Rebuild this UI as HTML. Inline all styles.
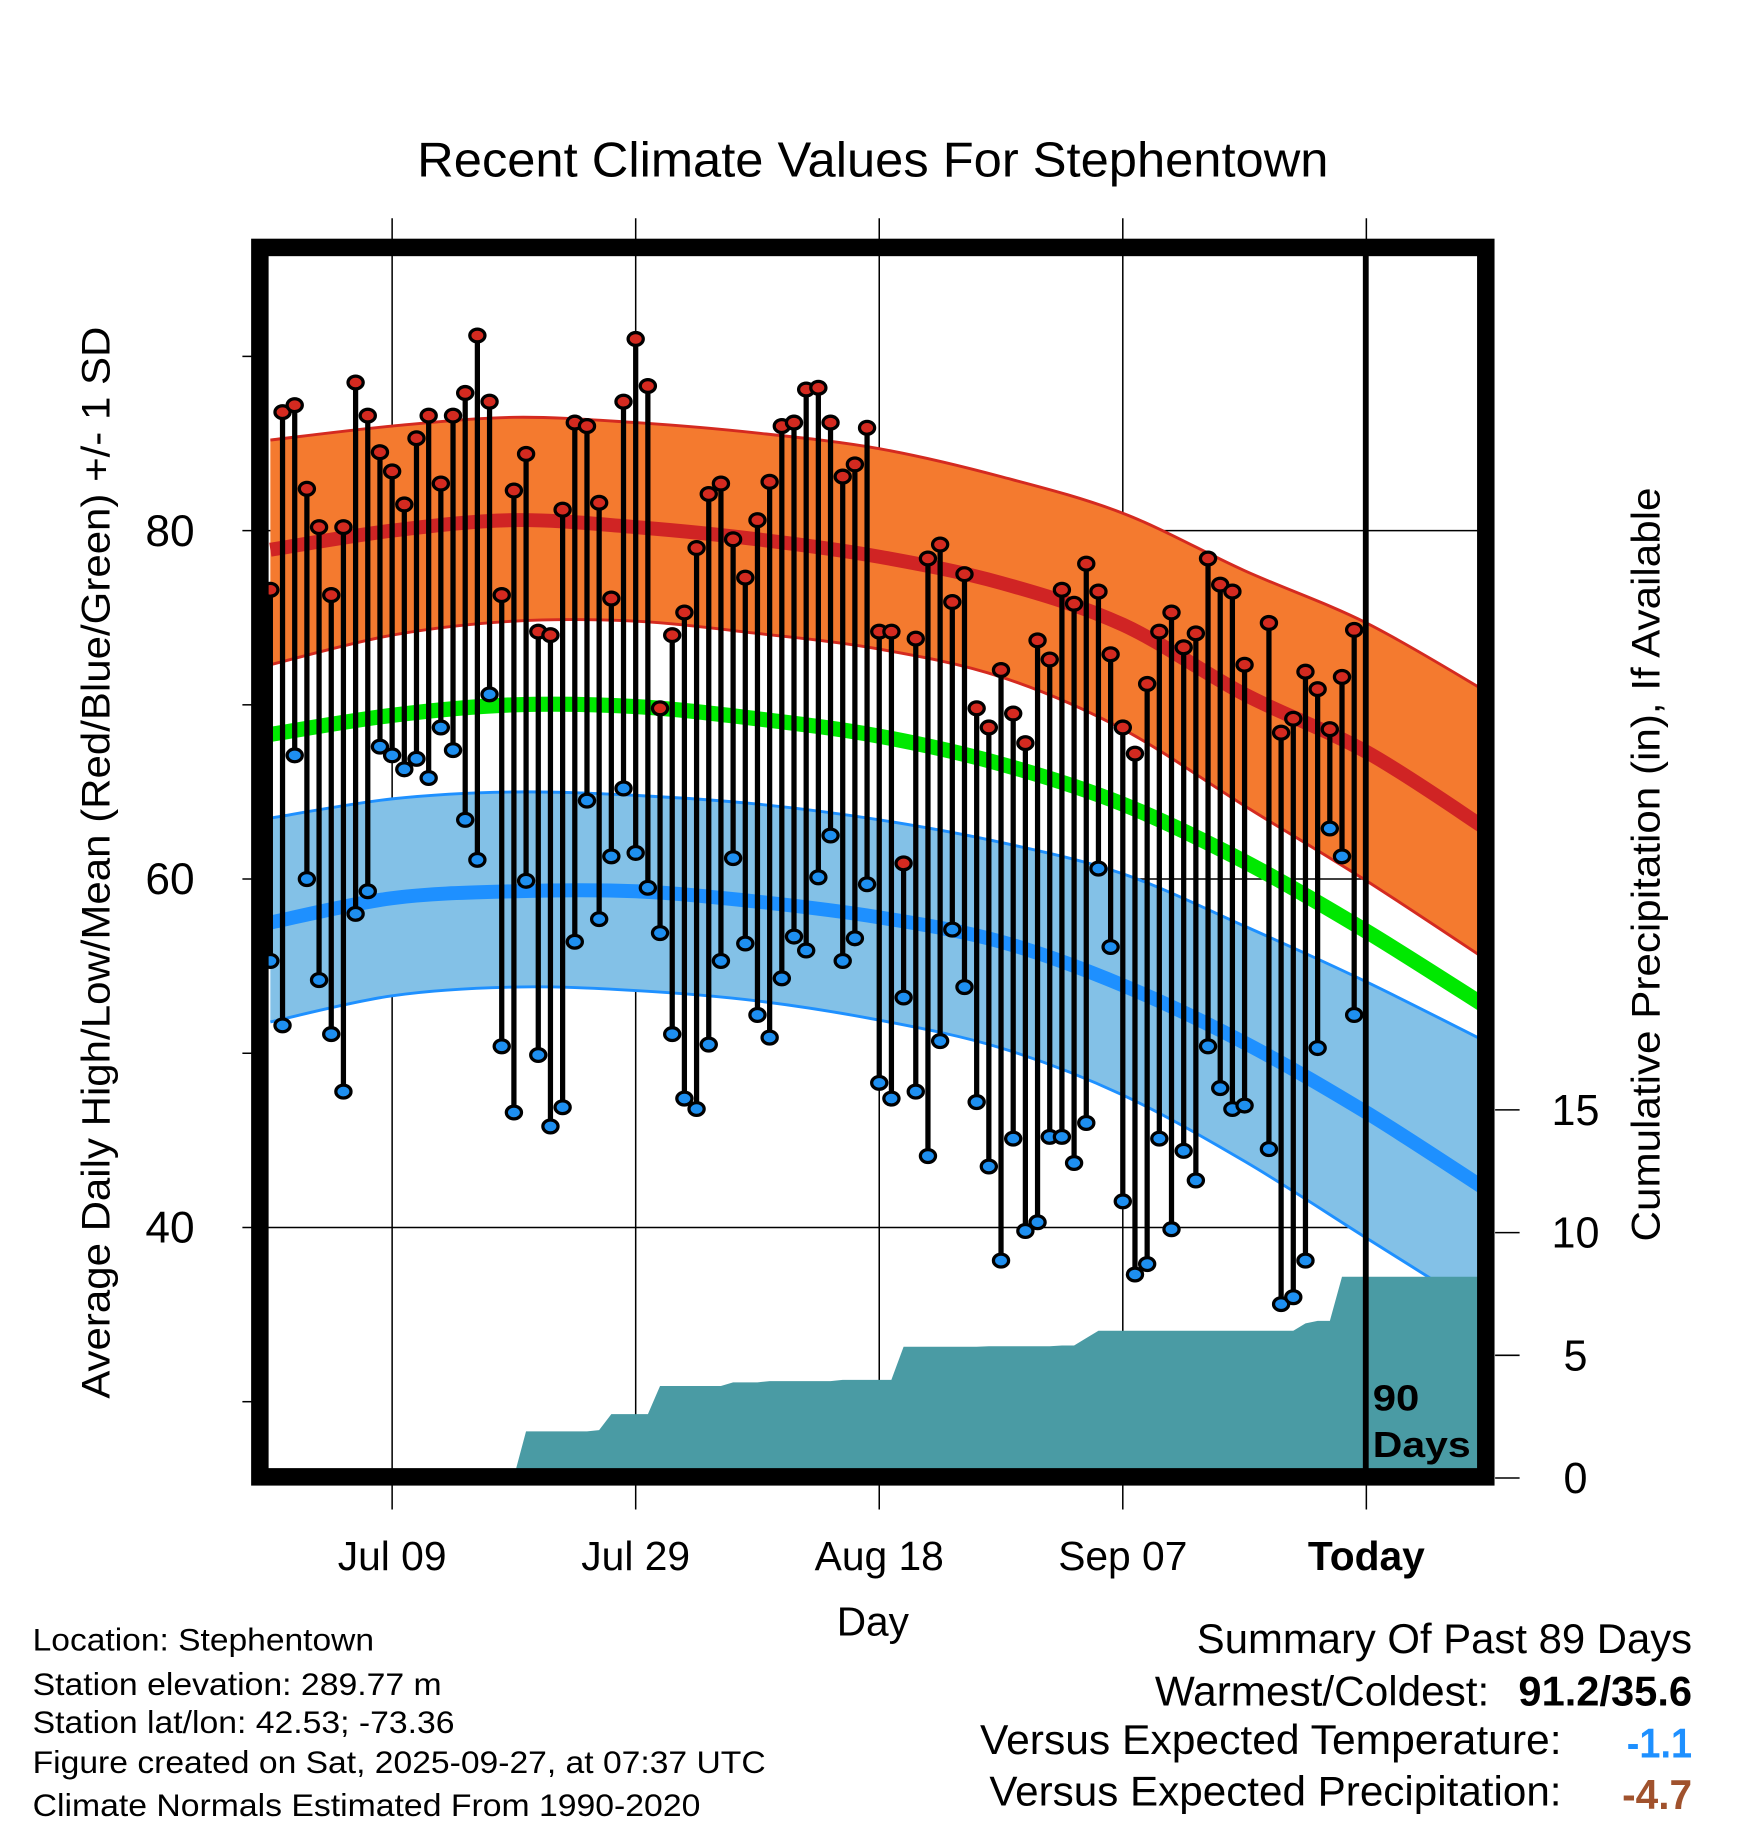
<!DOCTYPE html>
<html><head><meta charset="utf-8"><style>
html,body{margin:0;padding:0;background:#fff}
svg{display:block;font-family:"Liberation Sans",sans-serif}
</style></head><body>
<svg id="chart" width="1748" height="1828" viewBox="0 0 1500 1568" xmlns="http://www.w3.org/2000/svg">
<defs><clipPath id="pc"><rect x="230" y="219" width="1038" height="1041"/></clipPath></defs>
<text x="358" y="151" font-size="42" textLength="782" lengthAdjust="spacingAndGlyphs">Recent Climate Values For Stephentown</text>
<g id="grid"></g>
<g id="normals" clip-path="url(#pc)"></g>
<g id="precip" clip-path="url(#pc)"></g>
<g id="marks"></g>
<line x1="1172" y1="219" x2="1172" y2="1262" stroke="#000" stroke-width="5"/>
<text x="1178" y="1210" font-size="31" font-weight="bold" textLength="40" lengthAdjust="spacingAndGlyphs">90</text>
<text x="1178" y="1250" font-size="31" font-weight="bold" textLength="84" lengthAdjust="spacingAndGlyphs">Days</text>
<rect x="223" y="212" width="1052" height="1055" fill="none" stroke="#000" stroke-width="15"/>
<g id="axes"></g>
<text transform="translate(94,1200) rotate(-90)" font-size="34" textLength="920" lengthAdjust="spacingAndGlyphs">Average Daily High/Low/Mean (Red/Blue/Green) +/- 1 SD</text>
<text transform="translate(1424,1065) rotate(-90)" font-size="34" textLength="647" lengthAdjust="spacingAndGlyphs">Cumulative Precipitation (in), If Available</text>
<text x="718" y="1403" font-size="35" textLength="62" lengthAdjust="spacingAndGlyphs">Day</text>
<g font-size="27">
<text x="28" y="1416" textLength="293" lengthAdjust="spacingAndGlyphs">Location: Stephentown</text>
<text x="28" y="1454" textLength="351" lengthAdjust="spacingAndGlyphs">Station elevation: 289.77 m</text>
<text x="28" y="1487" textLength="362" lengthAdjust="spacingAndGlyphs">Station lat/lon: 42.53; -73.36</text>
<text x="28" y="1521" textLength="629" lengthAdjust="spacingAndGlyphs">Figure created on Sat, 2025-09-27, at 07:37 UTC</text>
<text x="28" y="1558" textLength="573" lengthAdjust="spacingAndGlyphs">Climate Normals Estimated From 1990-2020</text>
</g>
<g font-size="36">
<text x="1027" y="1418" textLength="425" lengthAdjust="spacingAndGlyphs">Summary Of Past 89 Days</text>
<text x="991" y="1463" textLength="287" lengthAdjust="spacingAndGlyphs">Warmest/Coldest:</text>
<text x="1303" y="1463" font-weight="bold" textLength="149" lengthAdjust="spacingAndGlyphs">91.2/35.6</text>
<text x="841" y="1505" textLength="499" lengthAdjust="spacingAndGlyphs">Versus Expected Temperature:</text>
<text x="1396" y="1508" font-weight="bold" fill="#1e90ff" textLength="56" lengthAdjust="spacingAndGlyphs">-1.1</text>
<text x="849" y="1549" textLength="491" lengthAdjust="spacingAndGlyphs">Versus Expected Precipitation:</text>
<text x="1392" y="1552" font-weight="bold" fill="#a0522d" textLength="60" lengthAdjust="spacingAndGlyphs">-4.7</text>
</g>
</svg>
<script>
const highs=[76.6,86.8,87.2,82.4,80.2,76.3,80.2,88.5,86.6,84.5,83.4,81.5,85.3,86.6,82.7,86.6,87.9,91.2,87.4,76.3,82.3,84.4,74.2,74.0,81.2,86.2,86.0,81.6,76.1,87.4,91.0,88.3,69.8,74.0,75.3,79.0,82.1,82.7,79.5,77.3,80.6,82.8,86.0,86.2,88.1,88.2,86.2,83.1,83.8,85.9,74.2,74.2,60.9,73.8,78.4,79.2,75.9,77.5,69.8,68.7,72.0,69.5,67.8,73.7,72.6,76.6,75.8,78.1,76.5,72.9,68.7,67.2,71.2,74.2,75.3,73.3,74.1,78.4,76.9,76.5,72.3,null,74.7,68.4,69.2,71.9,70.9,68.6,71.6,74.3];
const lows=[55.3,51.6,67.1,60.0,54.2,51.1,47.8,58.0,59.3,67.6,67.1,66.3,66.9,65.8,68.7,67.4,63.4,61.1,70.6,50.4,46.6,59.9,49.9,45.8,46.9,56.4,64.5,57.7,61.3,65.2,61.5,59.5,56.9,51.1,47.4,46.8,50.5,55.3,61.2,56.3,52.2,50.9,54.3,56.7,55.9,60.1,62.5,55.3,56.6,59.7,48.3,47.4,53.2,47.8,44.1,50.7,57.1,53.8,47.2,43.5,38.1,45.1,39.8,40.3,45.2,45.2,43.7,46.0,60.6,56.1,41.5,37.3,37.9,45.1,39.9,44.4,42.7,50.4,48.0,46.8,47.0,null,44.5,35.6,36.0,38.1,50.3,62.9,61.3,52.2];
const cumPrecip=[0,0,0,0,0,0,0,0,0,0,0,0,0,0,0,0.05,0.05,0.05,0.05,0.05,0.05,1.9,1.9,1.9,1.9,1.9,1.9,1.95,2.6,2.6,2.6,2.6,3.75,3.75,3.75,3.75,3.75,3.75,3.9,3.9,3.9,3.95,3.95,3.95,3.95,3.95,3.95,4.0,4.0,4.0,4.0,4.0,5.35,5.35,5.35,5.35,5.35,5.35,5.35,5.37,5.37,5.37,5.37,5.37,5.37,5.4,5.4,5.7,6.0,6.0,6.0,6.0,6.0,6.0,6.0,6.0,6.0,6.0,6.0,6.0,6.0,6.0,6.0,6.0,6.0,6.3,6.4,6.4,8.2,8.2];
const normDays=[0,10,20,30,40,50,60,70,80,90,100];
const normHigh=[78.9,80.0,80.6,80.2,79.5,78.5,77.0,74.6,70.6,67.3,62.8];
const normHighUp=[85.2,86.0,86.5,86.2,85.6,84.7,83.1,81.0,77.7,74.7,70.7];
const normHighLo=[72.3,74.0,74.8,74.8,74.1,73.2,71.6,68.6,64.2,59.9,55.3];
const normMean=[68.3,69.4,70.0,69.9,69.2,68.2,66.6,64.3,61.0,57.0,52.6];
const normLow=[57.5,58.9,59.3,59.3,58.7,57.8,56.4,53.9,50.6,46.6,42.1];
const normLowUp=[63.5,64.6,65.0,64.8,64.3,63.4,62.1,60.3,57.3,54.1,50.6];
const normLowLo=[51.8,53.3,53.8,53.6,53.0,51.9,50.3,47.6,43.8,39.4,35.0];
const tempTicks=[40,60,80];
const tempMinor=[30,50,70,90];
const precipTicks=[0,5,10,15];
const dateLabels=["Jul 09","Jul 29","Aug 18","Sep 07","Today"];
const dateDays=[10,30,50,70,90];

const NS="http://www.w3.org/2000/svg";
const xDay=d=>232+10.45*d;
const yT=t=>455-(t-80)*14.95;
const yP=p=>1268-p*21.06;
function mk(tag,attrs,parent){const e=document.createElementNS(NS,tag);for(const k in attrs)e.setAttribute(k,attrs[k]);parent.appendChild(e);return e;}
const grid=document.getElementById('grid'),normals=document.getElementById('normals'),precip=document.getElementById('precip'),marks=document.getElementById('marks'),axes=document.getElementById('axes');

tempTicks.forEach(t=>{
  const l=mk('line',{x1:208,x2:1268,y1:yT(t),y2:yT(t),stroke:'#000','stroke-width':1.3},grid);
  
  
  const tx=mk('text',{x:167,y:yT(t)+13,'font-size':38,'text-anchor':'end'},axes);
  tx.textContent=t;
  
  
});
tempMinor.forEach(t=>{
  const l=mk('line',{x1:208,x2:216,y1:yT(t),y2:yT(t),stroke:'#000','stroke-width':1.3},axes);
  
  
});
precipTicks.forEach(p=>{
  const l=mk('line',{x1:1283,x2:1304,y1:yP(p),y2:yP(p),stroke:'#000','stroke-width':1.3},axes);
  
  
  const tx=mk('text',{x:1352,y:yP(p)+13,'font-size':37,'text-anchor':'middle'},axes);
  tx.textContent=p;
  
  
});
dateDays.forEach((d,i)=>{
  const x=xDay(d);
  const l=mk('line',{x1:x,x2:x,y1:187,y2:1295,stroke:'#000','stroke-width':1.3},grid);
  
  
  const tx=mk('text',{x:x,y:1347,'font-size':35,'text-anchor':'middle'},axes);
  if(i===dateLabels.length-1)tx.setAttribute('font-weight','bold');
  tx.textContent=dateLabels[i];
  
  
});

function pts(arr){return arr.map((v,i)=>[xDay(normDays[i]),yT(v)]);}
function smooth(p,start){let d=start?('M'+p[0][0].toFixed(1)+','+p[0][1].toFixed(1)):('L'+p[0][0].toFixed(1)+','+p[0][1].toFixed(1));
  for(let i=0;i<p.length-1;i++){const p0=p[Math.max(0,i-1)],p1=p[i],p2=p[i+1],p3=p[Math.min(p.length-1,i+2)];
    const c1=[p1[0]+(p2[0]-p0[0])/6,p1[1]+(p2[1]-p0[1])/6],c2=[p2[0]-(p3[0]-p1[0])/6,p2[1]-(p3[1]-p1[1])/6];
    d+=' C'+c1[0].toFixed(1)+','+c1[1].toFixed(1)+' '+c2[0].toFixed(1)+','+c2[1].toFixed(1)+' '+p2[0].toFixed(1)+','+p2[1].toFixed(1);}
  return d;}
function pathOf(arr){return smooth(pts(arr),true);}
function bandOf(up,lo){return smooth(pts(up),true)+' '+smooth(pts(lo).reverse(),false)+' Z';}
let e;
e=mk('path',{d:bandOf(normHighUp,normHighLo),fill:'#f47a2f',stroke:'none'},normals);


e=mk('path',{d:pathOf(normHighUp),fill:'none',stroke:'#d42a20','stroke-width':2.5},normals);


e=mk('path',{d:pathOf(normHighLo),fill:'none',stroke:'#d42a20','stroke-width':2.5},normals);


e=mk('path',{d:pathOf(normHigh),fill:'none',stroke:'#d02424','stroke-width':12},normals);


e=mk('path',{d:pathOf(normMean),fill:'none',stroke:'#00e800','stroke-width':13},normals);


e=mk('path',{d:bandOf(normLowUp,normLowLo),fill:'#83c1e7',stroke:'none'},normals);


e=mk('path',{d:pathOf(normLowUp),fill:'none',stroke:'#1e90ff','stroke-width':2.5},normals);


e=mk('path',{d:pathOf(normLowLo),fill:'none',stroke:'#1e90ff','stroke-width':2.5},normals);


e=mk('path',{d:pathOf(normLow),fill:'none',stroke:'#1e90ff','stroke-width':12},normals);



let pd='M'+xDay(0)+','+yP(0);
cumPrecip.forEach((p,i)=>{pd+=' L'+xDay(i).toFixed(1)+','+yP(p).toFixed(1);});
pd+=' L1270,'+yP(cumPrecip[cumPrecip.length-1]).toFixed(1)+' L1270,1262 L'+xDay(0)+',1262 Z';
e=mk('path',{d:pd,fill:'#4a9ba4',stroke:'none'},precip);



highs.forEach((h,i)=>{
  const lo=lows[i];
  if(h==null||lo==null)return;
  const x=xDay(i);
  const s=mk('line',{x1:x,x2:x,y1:yT(h),y2:yT(lo),stroke:'#000','stroke-width':4.5},marks);
  
  
  const a=mk('ellipse',{cx:x,cy:yT(h),rx:6.5,ry:5.5,fill:'#d42a20',stroke:'#000','stroke-width':2.8},marks);
  
  
  const b=mk('ellipse',{cx:x,cy:yT(lo),rx:6.5,ry:5.5,fill:'#1e8ff0',stroke:'#000','stroke-width':2.8},marks);
  
  
});
</script>
</body></html>
